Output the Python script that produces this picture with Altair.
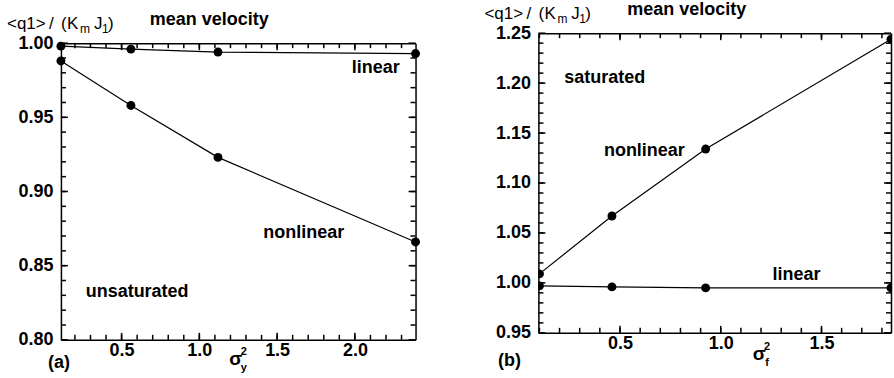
import altair as alt
import pandas as pd

FONT = "Liberation Sans"

# (a) unsaturated flow: mean velocity ratio against sigma_Y^2
sigma_y2 = [0.11, 0.56, 1.12, 2.39]
a_linear = [0.998, 0.996, 0.994, 0.993]
a_nonlinear = [0.988, 0.958, 0.923, 0.866]

# (b) saturated flow: mean velocity ratio against sigma_f^2
sigma_f2 = [0.10, 0.46, 0.925, 1.845]
b_linear = [0.997, 0.996, 0.995, 0.995]
b_nonlinear = [1.009, 1.067, 1.134, 1.244]

# labelled ticks
a_x_labels = [0.5, 1.0, 1.5, 2.0]
a_y_labels = [0.80, 0.85, 0.90, 0.95, 1.00]
b_x_labels = [0.5, 1.0, 1.5]
b_y_labels = [0.95, 1.00, 1.05, 1.10, 1.15, 1.20, 1.25]

# minor ticks
a_x_minor = [round(0.1 * i, 2) for i in range(2, 24)]
a_y_minor = [round(0.01 * i, 2) for i in range(81, 100)]
b_x_minor = [round(0.1 * i, 2) for i in range(1, 19)]
b_y_minor = [round(0.01 * i, 2) for i in range(96, 125)]


def txt(text, x, y, size, weight="normal", align="left", baseline="alphabetic"):
    return alt.Chart(pd.DataFrame({"t": [text]})).mark_text(
        font=FONT, fontSize=size, fontWeight=weight, align=align,
        baseline=baseline, color="black",
    ).encode(x=alt.value(x), y=alt.value(y), text="t:N")


def panel(xv, lin, non, xdom, ydom, W, H, xlabels, ylabels, xminor, yminor,
          notes, tag, tag_dx, tag_dy, sub, sym_dx, sym_dy, drop=0, clip=False):
    # drop: distance from the top of the view to the top of the frame
    VH = H + drop
    df = pd.DataFrame({
        "s": list(xv) * 2,
        "v": list(lin) + list(non),
        "curve": ["linear"] * len(lin) + ["nonlinear"] * len(non),
    })
    xsc = alt.Scale(domain=xdom, nice=False, zero=False)
    ysc = alt.Scale(domain=ydom, nice=False, zero=False, range=[VH, drop])
    base = alt.Chart(df)

    lab = dict(labelFont=FONT, labelFontSize=18, labelFontWeight="bold",
               labelColor="black", labelFlush=False, labelOverlap=False,
               ticks=False, tickSize=0, grid=False, title=None,
               domain=True, domainColor="black", domainWidth=1.5)
    x_axis = alt.Axis(orient="bottom", values=xlabels, format=".1f", labelPadding=2, **lab)
    y_axis = alt.Axis(orient="left", values=ylabels, format=".2f", labelPadding=8, **lab)

    lines = base.mark_line(color="black", strokeWidth=1.2).encode(
        x=alt.X("s:Q", scale=xsc, axis=x_axis),
        y=alt.Y("v:Q", scale=ysc, axis=y_axis),
        detail="curve:N",
    )
    dots = base.mark_circle(size=80, color="black", opacity=1, clip=clip).encode(
        x=alt.X("s:Q", scale=xsc, axis=None),
        y=alt.Y("v:Q", scale=ysc, axis=None),
    )

    # top and right edges of the frame
    def edge(orient, offset, channel):
        ax = alt.Axis(orient=orient, offset=offset, labels=False, ticks=False,
                      domain=True, domainColor="black", domainWidth=1.5,
                      grid=False, title=None)
        xa = ax if channel == "x" else None
        ya = ax if channel == "y" else None
        return base.mark_point(opacity=0).encode(
            x=alt.X("s:Q", scale=xsc, axis=xa),
            y=alt.Y("v:Q", scale=ysc, axis=ya),
        )

    frame = [edge("bottom", drop - VH, "x"), edge("left", -W, "y")]

    # inward ticks on all four edges
    def xticks(values, size):
        d = alt.Chart(pd.DataFrame({"p": values})).mark_rule(color="black", strokeWidth=1.5)
        return [
            d.encode(x=alt.X("p:Q", scale=xsc, axis=None), y=alt.value(VH), y2=alt.value(VH - size)),
            d.encode(x=alt.X("p:Q", scale=xsc, axis=None), y=alt.value(drop), y2=alt.value(drop + size)),
        ]

    def yticks(values, size):
        d = alt.Chart(pd.DataFrame({"p": values})).mark_rule(color="black", strokeWidth=1.5)
        return [
            d.encode(y=alt.Y("p:Q", scale=ysc, axis=None), x=alt.value(0), x2=alt.value(size)),
            d.encode(y=alt.Y("p:Q", scale=ysc, axis=None), x=alt.value(W), x2=alt.value(W - size)),
        ]

    ticks = xticks(xminor, 5) + xticks(xlabels, 7) + yticks(yminor, 5) + yticks(ylabels, 7)

    note_layers = []
    for label, nx, ny in notes:
        note_layers.append(
            alt.Chart(pd.DataFrame({"s": [nx], "v": [ny], "n": [label]})).mark_text(
                font=FONT, fontSize=18, fontWeight="bold", color="black",
                align="center", baseline="middle",
            ).encode(
                x=alt.X("s:Q", scale=xsc, axis=None),
                y=alt.Y("v:Q", scale=ysc, axis=None),
                text="n:N",
            )
        )

    # ordinate title: <q1> / (K_m J_1)   mean velocity
    t0 = drop
    head = [
        txt("<q1>", -54, t0 - 14, 17),
        txt("/", -12, t0 - 14, 17),
        txt("(", 0, t0 - 14, 17),
        txt("K", 6, t0 - 14, 17),
        txt("m", 19, t0 - 10, 12),
        txt("J", 33, t0 - 14, 17),
        txt("1", 41, t0 - 10, 12),
        txt(")", 47, t0 - 14, 17),
        txt("mean velocity", 89, t0 - 18, 18, "bold"),
    ]

    # abscissa symbol and panel tag
    foot = [
        txt("σ", sym_dx, VH + sym_dy, 19, "bold", align="center"),
        txt("2", sym_dx + 8, VH + sym_dy - 10, 11, "bold", align="center"),
        txt(sub, sym_dx + 8, VH + sym_dy + 6, 11, "bold", align="center"),
        txt(tag, tag_dx, VH + tag_dy, 18, "bold", align="center", baseline="middle"),
    ]

    layers = head + [lines, dots] + frame + ticks + note_layers + foot
    return alt.layer(*layers).resolve_axis(x="independent", y="independent").properties(
        width=W, height=VH
    )


left = panel(
    sigma_y2, a_linear, a_nonlinear, [0.11, 2.39], [0.80, 1.00], 355, 297,
    a_x_labels, a_y_labels, a_x_minor, a_y_minor,
    [("linear", 2.134, 0.983), ("nonlinear", 1.671, 0.872), ("unsaturated", 0.60, 0.832)],
    "(a)", -2, 23, "y", 175, 25, drop=10,
)
right = panel(
    sigma_f2, b_linear, b_nonlinear, [0.095, 1.845], [0.95, 1.25], 353, 300,
    b_x_labels, b_y_labels, b_x_minor, b_y_minor,
    [("saturated", 0.424, 1.205), ("nonlinear", 0.621, 1.132), ("linear", 1.376, 1.0076)],
    "(b)", -29, 28, "f", 221, 27, clip=True,
)

chart = alt.hconcat(left, right, spacing=64).properties(
    padding={"left": 7, "top": 1, "right": 0, "bottom": 0},
    background="white",
).configure_view(strokeWidth=0)

chart.save("out.html", embed_options={"renderer": "svg", "actions": False})
